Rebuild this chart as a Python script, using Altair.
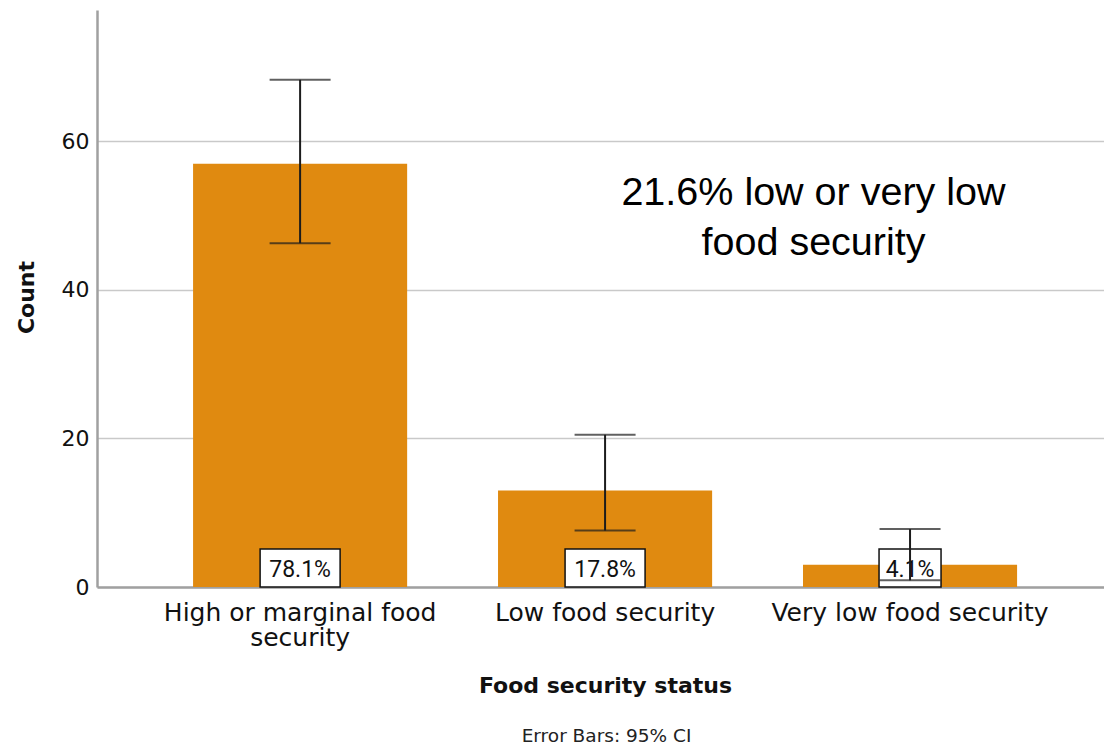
import altair as alt
import pandas as pd

# ---- data ----
categories = ["High or marginal food security", "Low food security", "Very low food security"]
counts = [57, 13, 3]
ci_low = [46.3, 7.6, 0.9]
ci_high = [68.3, 20.5, 7.8]
pct_labels = ["78.1%", "17.8%", "4.1%"]
y_ticks = [0, 20, 40, 60]
annotation = ["21.6% low or very low", "food security"]
footnote = "Error Bars: 95% CI"
x_title = "Food security status"
y_title = "Count"

W, H = 1007, 577
BAR = "#E08A10"
INK = "#1c1c1c"

df = pd.DataFrame({
    "cat": categories,
    "count": counts,
    "lo": ci_low,
    "hi": ci_high,
    "pct": pct_labels,
})
df["boxw"] = [18 * len(s) - 10 for s in pct_labels]

label_expr = (
    f"datum.label == '{categories[0]}' ? ['High or marginal food', 'security'] : datum.label"
)

x_enc = alt.X(
    "cat:N",
    sort=categories,
    scale=alt.Scale(paddingInner=0.298, paddingOuter=0.3, align=0.525),
    axis=alt.Axis(
        title=x_title,
        labelExpr=label_expr,
        labelAngle=0,
        labelFontSize=25,
        labelLineHeight=25,
        labelPadding=13,
        labelLimit=0,
        labelColor="#111111",
        ticks=False,
        domainColor="#a0a0a0",
        domainWidth=2.5,
        titleFontSize=22,
        titleFontWeight="bold",
        titleColor="#111111",
        titleX=508,
        titleY=105,
        titleBaseline="alphabetic",
        titleAlign="center",
        grid=False,
    ),
)

y_scale = alt.Scale(domain=[0, 77.7], nice=False, zero=True)
y_axis = alt.Axis(
    title=y_title,
    values=y_ticks,
    ticks=False,
    labelFontSize=22,
    labelPadding=8,
    labelColor="#111111",
    domainColor="#a0a0a0",
    domainWidth=2.5,
    grid=True,
    gridColor="#c9c9c9",
    gridWidth=1.5,
    titleFontSize=22,
    titleFontWeight="bold",
    titleColor="#111111",
    titleAngle=-90,
    titleX=-64,
    titleY=287,
    titleAlign="center",
    titleBaseline="alphabetic",
)

base = alt.Chart(df)

bars = base.mark_bar(color=BAR).encode(
    x=x_enc,
    y=alt.Y("count:Q", scale=y_scale, axis=y_axis),
)

boxes = base.mark_bar(fill="white", stroke="#111111", strokeWidth=1.5).encode(
    x=x_enc,
    y=alt.value(H - 38),
    y2=alt.value(H),
    size=alt.Size("boxw:Q", scale=None),
)

pct_text = base.mark_text(
    font="Roboto", fontSize=23, baseline="alphabetic", color="#111111"
).encode(
    x=x_enc,
    y=alt.value(H - 10),
    text="pct:N",
)

err_rule = base.mark_rule(color=INK, strokeWidth=2).encode(
    x=x_enc,
    y=alt.Y("lo:Q", scale=y_scale, axis=y_axis),
    y2="hi:Q",
)

cap_lo = base.mark_tick(color=INK, thickness=2, size=61).encode(
    x=x_enc,
    y=alt.Y("lo:Q", scale=y_scale, axis=y_axis),
)
cap_hi = base.mark_tick(color=INK, thickness=2, size=61).encode(
    x=x_enc,
    y=alt.Y("hi:Q", scale=y_scale, axis=y_axis),
)

one = pd.DataFrame({"k": [0]})
annot = alt.Chart(one).mark_text(
    text=annotation,
    font="Liberation Sans",
    fontSize=39.5,
    lineHeight=50,
    align="center",
    baseline="alphabetic",
    color="#000000",
).encode(x=alt.value(716.5), y=alt.value(195))

foot = alt.Chart(one).mark_text(
    text=footnote,
    font="DejaVu Sans",
    fontSize=18.5,
    align="center",
    baseline="alphabetic",
    color="#222222",
).encode(x=alt.value(509.5), y=alt.value(732))

chart = (
    alt.layer(bars, boxes, pct_text, err_rule, cap_lo, cap_hi, annot, foot)
    .properties(
        width=W,
        height=H,
        padding={"left": 97, "top": 10, "right": 0, "bottom": 159},
        autosize=alt.AutoSizeParams(type="none"),
        background="white",
    )
    .configure_view(stroke=None)
    .configure_axis(labelFont="DejaVu Sans", titleFont="DejaVu Sans")
)

chart.save("out.html", embed_options={"renderer": "svg", "actions": False})
